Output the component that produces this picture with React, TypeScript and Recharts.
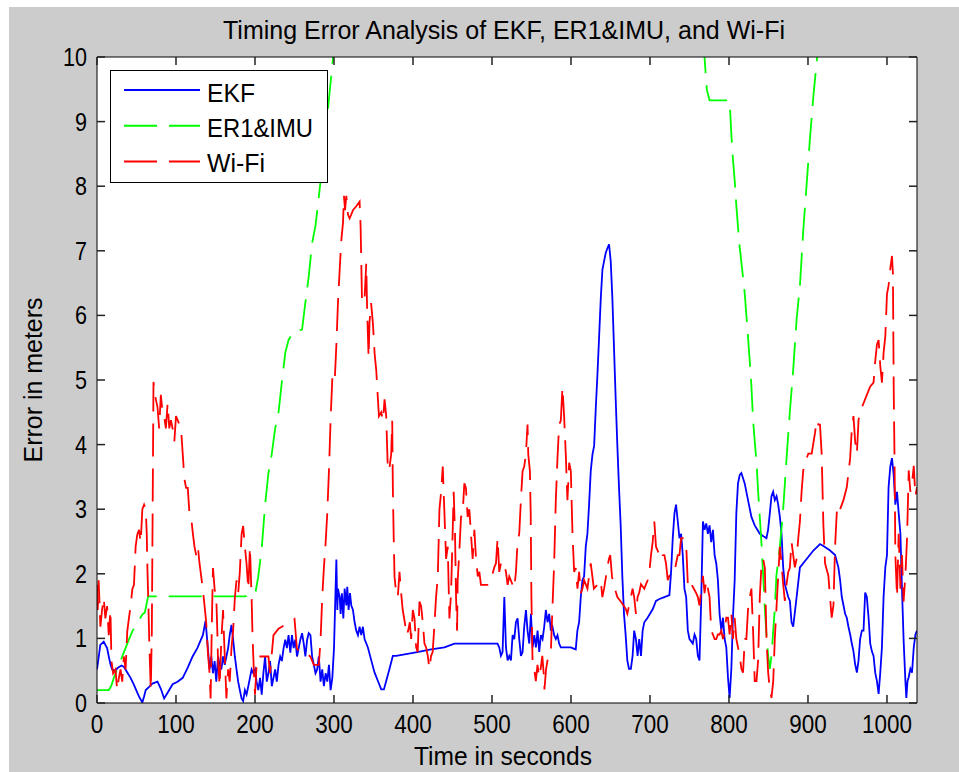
import { LineChart, Line, XAxis, YAxis, Legend } from 'recharts'

// time (s), error (m) pairs read off the plot
const ekfSeries: [number, number][] = [
  [0,0.52],[2,0.7],[4.2,0.9],[8.5,0.95],[10.6,0.9],[12.8,0.85],[14.9,0.72],[17,0.6],[19.1,0.52],[23,0.5],[27,0.55],[31,0.58],[34,0.56],[38,0.48],[42.5,0.39],[46.8,0.28],[51,0.16],[54,0.08],[57.4,0.01],[59.6,0.1],[61.7,0.2],[66,0.25],[70,0.3],[76.6,0.33],[80.8,0.22],[85,0.07],[89,0.15],[95.7,0.29],[102,0.33],[108.5,0.39],[115,0.55],[121,0.72],[127,0.85],[134,1.05],[137.4,1.27],[140,0.9],
  [142.5,0.52],[144.7,0.72],[146.8,0.46],[148.9,0.65],[151,0.33],[153.2,0.72],[155.3,0.59],[157.4,0.52],[159.6,0.72],[161.7,0.59],[163.8,0.72],[166,0.85],[168,1.05],[170.2,1.21],[172.3,0.98],[174.5,0.72],[176.6,0.52],[178.7,0.33],[180.8,0.2],[183,0.07],[185,0.03],[187.2,0.2],[189.3,0.13],[191.5,0.26],[193.6,0.39],[195.7,0.52],[197.9,0.46],[200,0.52],[202,0.33],[204.2,0.2],[206.4,0.39],[208.5,0.13],[210.6,0.46],[212.8,0.72],[214.9,0.33],[217,0.46],[219.1,0.65],[221.3,0.26],[223.4,0.39],[225.5,0.52],[227.6,0.33],[229.8,0.59],[231.9,0.72],[234,0.65],[236.2,0.85],[238.3,0.98],[240.4,0.85],[242.5,1.05],[244.7,0.78],[246.8,1.05],[248.9,0.85],[251,0.98],[253.2,0.72],[255.3,0.85],[257.4,0.98],[259.6,1.08],[261.7,0.92],[263.8,0.72],[266,0.98],[268,1.08],[270.2,1.05],[272.3,0.72],[274.5,0.59],[276.6,0.46],[278.7,0.52],[280.8,0.72],[283,0.33],[285.1,0.52],[287.2,0.26],[289.4,0.46],[291.5,0.33],[293.6,0.59],[295.7,0.2],[297.9,0.39],[300,0.85],
  [303,2.22],[304.2,1.44],[305,1.77],[307.2,1.64],[308.4,1.38],[310,1.7],[311.8,1.31],[313.5,1.77],[315.6,1.51],[316.8,1.8],[318.5,1.44],[320.2,1.7],[321.9,1.51],[324,1.44],[326.1,1.25],[328.2,1.12],[330.3,1.05],[332.4,1.18],[334.5,1.05],[336.6,1.18],[338.7,0.99],[342.9,0.86],[347.2,0.66],[351.4,0.47],[355.6,0.34],[359.8,0.21],[363.2,0.21],[366.1,0.34],[370.3,0.53],[374.5,0.73],[378.7,0.73],[401.9,0.78],[423,0.83],[439.8,0.86],[452.4,0.92],[507,0.92],
  [509.2,0.86],[511.3,0.73],[513.4,0.79],[515.6,1.64],[517.7,0.86],[519.8,0.66],[521.9,0.73],[524,0.66],[526.1,1.05],[528.2,0.99],[530.3,1.25],[532.4,1.31],[534.5,0.99],[536.6,0.73],[538.7,0.79],[540.8,1.18],[543,1.44],[545,1.12],[547.2,0.92],[549.3,1.38],[551.4,0.86],[553.5,1.05],[555.6,0.86],[557.7,1.12],[559.8,0.79],[561.9,1.05],[564,0.99],[566.1,1.18],[568.2,1.44],[570.3,1.25],[572.4,1.38],[574.5,1.12],[576.6,1.18],[578.7,1.05],[580.8,0.99],[582.9,1.05],[585,0.92],[587.1,0.86],[591.3,0.86],[599.7,0.86],[606,0.83],
  [608.1,1.12],[610.3,1.25],[612.4,1.64],[614.5,1.9],[616.6,1.96],[618.7,2.42],[620.8,2.62],[622.9,3.07],[625,3.59],[627.2,3.85],[629.3,3.98],[631.4,4.57],[633.5,5.09],[635.6,5.67],[637.7,6.26],[639.8,6.71],[641.9,6.84],[644,6.97],[646.1,7.04],[648.2,7.1],[650.3,6.84],[652.4,6.26],[654.5,5.48],[656.6,4.7],[658.7,3.98],[660.8,3.33],[662.9,2.75],[665,1.96],[667.1,1.38],[669.2,1.05],[671.3,0.66],[673.4,0.53],
  [675.8,0.53],[678,0.73],[680,1.12],[682.2,0.99],[684.3,0.73],[686.4,0.99],[688.6,0.73],[690.7,1.12],[692.8,1.25],[697,1.32],[703.4,1.45],[707.6,1.58],[711.9,1.61],[718.2,1.64],[724.6,1.67],[726.7,2.03],[728.8,2.55],[731,2.94],[733,3.07],[735.2,2.81],[737.3,2.55],[739.4,2.62],[741.5,2.29],[743.6,1.77],[745.8,1.64],[747.9,1.12],[750,0.99],[754.2,0.92],[756.4,1.06],[758.5,0.99],[760.6,0.73],[762.7,0.66],[764.8,1.58],[767,2.81],[769.1,2.68],[771.2,2.78],[773.3,2.62],[775.4,2.75],[777.5,2.49],[779.7,2.68],[781.8,2.29],[783.9,2.16],[786,1.9],[788.1,1.38],[790.3,1.12],[792.4,1.32],[794.5,0.99],[796.6,0.86],[798.7,0.4],[800.8,0.08],[803,0.53],[805,1.32],[807.2,1.9],[809.3,2.94],[811.4,3.4],[813.6,3.53],[815.7,3.56],[819.9,3.4],[824.1,3.14],[828.4,2.88],[832.6,2.75],[839,2.62],[847.4,2.55],[849.5,2.68],[851.7,2.94],[853.8,3.2],[855.9,3.27],[858,3.14],[860.2,3.2],[862.3,3.07],[864.4,2.88],[866.5,2.62],[868.6,2.1],[870.7,1.84],[875,1.64],[877.1,1.58],[879.2,1.25],[881.3,1.18],[885.6,1.64],[889.8,2.1],[898.3,2.23],[906.8,2.36],[915.2,2.46],[919.5,2.43],[928,2.36],[934.3,2.29],[938.5,2.1],[940.7,1.9],[942.8,1.64],[945,1.51],[947,1.38],[949.1,1.32],[951.2,1.18],[953.4,1.06],[955.5,0.92],[957.6,0.8],[959.7,0.6],[961.9,0.47],[964,0.66],[966,0.99],[968.2,1.12],[970.3,1.12],[972.4,1.71],[974.5,1.64],[976.7,1.32],[978.8,0.92],[980.9,0.8],[983,0.73],[985.1,0.47],[987.3,0.34],[989.4,0.14],[991.5,0.47],[993.6,0.86],[995.7,1.64],[997.9,2.1],[1000,2.29],[1002,3.34],[1004.2,3.66],[1006.3,3.79],[1008.5,3.53],[1010.6,3.07],[1012.7,3.27],[1014.8,2.94],[1017,2.62],[1019,1.77],[1021,0.99],[1023.3,0.34],[1024.5,0.08],[1026,0.34],[1027.5,0.4],[1029.6,0.53],[1031.7,0.47],[1033.9,0.86],[1036,1.06],[1038,1.12],
]

// goes above the axis limit between ~300 s and ~770 s (clipped, as in the original)
const er1ImuSeries: [number, number][] = [
  [0,0.2],[14.9,0.2],[17.9,0.26],[21.3,0.39],[25.5,0.52],[31.9,0.72],[38.3,0.92],[44.7,1.11],[51,1.24],[57.4,1.37],[60.5,1.4],[64.7,1.65],[187.2,1.65],[200,1.67],[204.2,1.96],[208.5,2.39],[212.8,3.07],[217,3.56],[221.3,3.86],[225.5,4.25],[229.8,4.5],[234,4.97],[238.3,5.42],[242.5,5.62],[249,5.75],[259.6,5.78],[263.8,6.2],[268,6.6],[272.3,7.12],[276.6,7.39],[280.8,7.84],[285,8.3],[289.4,8.8],[293.6,9.35],[297.9,9.87],[301,10.3],[310,11.5],
  [760,11.5],[769,10],[772,9.49],[775.4,9.33],[800.8,9.33],[803,8.8],[805,8.42],[807.2,8.09],[809.3,7.7],[811.4,7.37],[813.6,7.05],[817.8,6.59],[820,6.33],[824,5.68],[826.3,5.29],[828.4,4.9],[830.5,4.38],[832.6,4.05],[834.8,3.73],[836.9,3.27],[839,2.88],[841,2.49],[843.3,1.97],[845.4,1.45],[847.5,1.06],[849.6,0.73],[851.7,0.53],[853.8,0.73],[856,1.12],[858,1.45],[860,1.97],[864.4,2.42],[868.6,3.0],[872.9,3.79],[877,4.5],[881.3,5.16],[885.6,5.94],[889.8,6.46],[894,7.31],[898.3,8.03],[902.5,8.74],[906.8,9.39],[911,9.92],[914,10.3],[920,11],
]

const wifiSeries: [number, number][] = [
  [0,1.83],[0.9,1.44],[2.1,1.9],[4.3,1.18],[6.4,1.44],[8.5,1.63],[10.6,1.31],[12.8,1.5],[14.9,1.05],[17,1.44],[18.3,0.65],[20.4,0.46],[23.4,0.52],[25.5,0.2],[27.7,0.39],[29.8,0.52],[31.9,0.33],[34,0.72],[36.2,0.52],[38.3,1.11],[40.4,1.31],[42.5,1.5],[44.7,1.76],[46.8,1.83],[48.9,2.42],[51,2.61],[53.2,2.68],[55.3,2.48],[57.4,3.0],[59.6,3.07],[61.7,3.0],[63,2.61],[63.8,2.09],[65.1,1.5],[66.4,0.85],[68.1,0.2],[69.4,1.11],[70.6,3.27],[71.5,4.97],
  [74.5,4.7],[76.6,4.58],[78.7,4.25],[80.8,4.77],[83,4.5],[85,4.44],[87.2,4.25],[89.4,4.64],[91.5,4.25],[93.6,4.38],[95.7,4.25],[97.9,4.05],[100,4.44],[102.1,4.38],[104.3,4.31],[106.4,4.25],[108.5,3.86],[110.6,3.47],[112.8,3.33],[114.9,3.33],[117,2.94],[119.1,2.88],[121.3,2.63],[123.4,2.42],[125.5,2.29],[127.7,2.42],[129.8,2.16],[131.9,1.96],[134,1.76],[136.2,1.5],[138.3,1.24],[140.4,0.78],[142.5,0.46],[143.8,0.07],[145.5,1.31],[146.8,2.09],[148.9,1.76],[151,1.63],[152.3,1.11],[153.2,0.65],[155.3,0.26],[157.4,0.98],[159.6,1.44],[160.9,0.98],[162.6,0.46],[163.8,0.07],[166,0.52],[168,0.33],[170.2,0.85],[172.3,1.11],[174.5,1.63],[176.6,1.9],[178.7,1.7],[180.8,2.03],[183,2.61],[185,2.74],[187.2,2.42],[189.3,2.16],[191.5,1.76],[193.6,2.42],[195.7,1.63],[197,0.98],[198.7,0.46],[200,0.13],[202,0.59],[204.2,0.72],[217,0.72],[219,0.46],[223.4,1.05],[229.8,1.15],[234,1.18],[240,1.22],[246.8,1.27],[250,1.3],[253,0.85],[255.3,0.8],[264,0.78],[270,0.72],[274.5,0.59],[280.8,0.59],[283,0.98],[285.1,1.63],[287.2,2.09],[289.4,2.48],[291.5,2.94],[293.6,3.59],[295.7,4.38],[297.9,5.03],
  [300.8,4.96],[303,5.54],[305,6.19],[307.2,6.71],[309.3,7.17],[311.4,7.43],[312.6,7.85],[314,7.63],[315.6,7.85],[317.7,7.56],[319.8,7.5],[324,7.63],[328.2,7.69],[332.4,7.76],[333.7,7.37],[334.5,6.84],[335.4,6.26],[336.6,6.19],[338.7,6.26],[340.8,6.8],[342,6.06],[343.8,5.35],[345,5.9],[347,6.19],[349.3,5.87],[351.4,5.41],[353.5,5.15],[355.6,4.7],[356.9,4.44],[359.8,4.5],[362,4.37],[364,4.7],[366.1,4.44],[368.2,3.59],[370.3,3.65],[372.4,3.85],[373.7,4.37],[374.5,3.33],[375.3,2.75],[376.6,1.96],[378.7,1.7],[380.8,1.64],[382.9,2.03],[385,1.7],[387,1.44],[389.6,1.25],[391.8,1.05],[393.9,1.12],[396,1.25],[397.7,0.99],[399.8,1.44],[401.9,1.31],[404,0.86],[406,0.79],[408.2,1.57],[410.3,1.5],[412.4,1.25],[414.5,0.92],[416.6,0.86],[418.7,0.73],[420.8,0.53],[422.9,0.73],[424.9,0.79],[427,1.18],[429.2,1.64],[431.4,1.96],[433.5,3.0],[435.6,3.27],[437.7,3.66],[439,3.2],[439.8,2.94],[441.9,2.23],[444,2.42],[446.1,1.31],[448.2,1.7],[450.3,2.68],[451.5,3.27],[453.2,2.62],[454.5,1.64],[455.8,1.12],[456.6,1.9],[458.7,2.36],[460.8,2.88],[462.9,2.94],[465,3.4],[467,3.33],[469.2,2.88],[471.3,3.0],[473.4,2.62],[475.5,2.23],[477.7,2.68],[479.8,2.23],[482,1.96],[484,2.03],[486,1.83],[490.3,1.83],[494.5,1.83],[498.7,1.9],[502.9,2.1],[505,2.16],[507.1,2.55],[509.2,2.03],[511.3,2.16],[513.4,2.09],[515.6,2.13],[517.7,2.03],[519.8,1.83],[521.9,1.96],[526.1,1.83],[528.2,1.77],[530.3,2.03],[532.4,2.49],[534.5,2.62],[536.6,3.14],[538.7,3.59],[540.8,3.66],[542.9,3.85],[545,4.31],[545.9,3.85],[548,3.59],[549,2.94],[549.9,1.64],[551.3,0.66],[553.4,0.53],[555.5,0.34],[557.6,0.59],[559.7,0.4],[561.6,0.53],[563.7,0.73],[565.8,0.4],[566.4,0.21],[568.5,0.53],[570.3,0.66],[572.4,0.73],[574.5,0.79],[576.6,1.5],[578.7,2.16],[580.8,3.14],[582.9,3.79],[585,4.31],[587.1,4.37],[589.2,4.89],[591.3,4.44],[593.4,3.85],[595.5,3.14],[597.7,3.72],[599.8,3.59],[601.9,2.62],[604,2.03],[606,2.09],[608.2,1.77],[610.3,2.03],[612.4,1.7],[614.5,1.77],[616.6,1.9],[620.8,1.77],[625,2.16],[629,1.77],[633.4,1.83],[637.6,1.9],[639.7,1.64],[641.9,1.77],[646,2.09],[648,2.23],[649.7,2.29],[651.9,1.96],[654,1.83],[658.7,1.64],[663,1.57],[667,1.5],[669.5,1.45],[671.3,1.38],[673.6,1.51],[675.8,1.64],[678,1.77],[680,1.64],[682.2,1.38],[684.3,1.64],[686.4,1.71],[688.6,1.84],[692.8,1.77],[697,1.9],[699.2,2.03],[701.3,2.29],[703.4,2.49],[705.5,2.81],[707.6,2.42],[709.7,2.36],[711.9,2.29],[714,2.36],[716,2.29],[718.2,2.29],[720.3,2.16],[722.5,1.9],[724.6,1.97],[728.8,1.97],[731,2.03],[733,2.16],[735.2,2.29],[737.3,2.29],[739.4,2.55],[741.5,2.55],[743.6,2.5],[745.8,2.46],[747.9,1.84],[750,1.77],[752.1,1.84],[754.2,1.8],[758.5,1.7],[760.6,1.64],[762.7,1.51],[767,1.97],[769.1,1.7],[771.2,1.9],[773.3,1.77],[775.4,1.64],[777.5,1.12],[779.7,1.06],[781.8,0.99],[783.9,0.99],[786,1.06],[788.1,1.06],[790.3,1.12],[792.4,0.99],[794.5,1.12],[796.6,1.32],[798.7,1.32],[800.8,1.06],[803,1.38],[805,0.99],[807.2,1.32],[809.3,0.99],[811.4,0.86],[813.6,0.73],[815.7,0.53],[817.8,0.47],[820,0.99],[822,0.99],[824.1,1.45],[826.3,1.64],[828.4,1.77],[830.5,1.12],[832.6,0.34],[834.8,0.34],[836.9,0.66],[839,1.64],[841.2,2.16],[843.3,2.23],[845.4,2.09],[847.5,0.99],[849.6,0.47],[851.7,0.21],[853.8,0.08],[856,0.34],[858,0.99],[860,1.45],[862.3,1.97],[864.4,2.42],[866.5,2.16],[868.6,1.84],[870.7,1.58],[872.9,1.84],[875,2.03],[877,2.09],[879.2,2.49],[881.3,2.29],[883.4,2.1],[885.6,2.23],[887.7,2.55],[889.8,2.81],[891.9,3.27],[894,3.6],[896.2,3.73],[898.3,3.79],[900.4,3.86],[904.7,3.86],[908.9,4.18],[911,4.38],[913.1,4.31],[915.2,4.31],[917.3,3.86],[919.5,2.75],[921.6,2.16],[925.8,1.97],[927.9,1.64],[930,1.32],[932.2,1.51],[934.3,2.42],[936.4,2.94],[938.5,3.07],[940.7,3.0],[944.9,3.14],[949.1,3.34],[953.4,3.79],[955.5,4.25],[957.6,4.44],[959.7,4.05],[961.9,3.86],[964,4.38],[966,4.51],[970.3,4.64],[974.5,4.77],[978.8,4.9],[983,4.96],[985.1,5.29],[987.3,5.55],[989.4,5.62],[991.5,5.22],[993.6,4.96],[995.7,5.42],[997.9,5.68],[1000,6.33],[1002,6.46],[1004.2,6.72],[1006.3,6.92],[1007.5,6.66],[1008.5,4.9],[1009.7,3.6],[1010.6,2.29],[1012.7,1.64],[1014.8,2.62],[1017,1.77],[1019,2.29],[1021,1.57],[1023.3,1.97],[1025.4,2.55],[1027.5,3.6],[1029.6,3.27],[1031.7,3.4],[1033.9,3.67],[1036,3.2],[1038,3.34],
]

const xTicks = [0, 100, 200, 300, 400, 500, 600, 700, 800, 900, 1000]
const yTicks = [0, 1, 2, 3, 4, 5, 6, 7, 8, 9, 10]

const legendItems = [
  { name: 'EKF', color: '#0000ff', dash: undefined, w: 48 },
  { name: 'ER1&IMU', color: '#00ff00', dash: '33 12', w: 106 },
  { name: 'Wi-Fi', color: '#ff0000', dash: '33 12', w: 58 },
]

const FONT = '"Liberation Sans", Arial, sans-serif'
const PLOT = { left: 97, right: 917, top: 57, bottom: 703 }
const TICK_LEN = 8
const TICK_STYLE = { stroke: '#222', strokeWidth: 1.5 }
const toRows = (s: [number, number][]) => s.map(([t, v]) => ({ t, v }))

// ticks point inward, like a MATLAB box
const BottomTick = (props: any) => {
  const s = String(props.payload.value)
  return (
    <g>
      <text x={props.x} y={733} textAnchor="middle" fontSize={26} fontFamily={FONT} fill="#000"
        textLength={s.length * 12.5} lengthAdjust="spacingAndGlyphs">{s}</text>
      <path d={`M${props.x},${PLOT.bottom}V${PLOT.bottom - TICK_LEN}`} {...TICK_STYLE} />
    </g>
  )
}

const TopTick = (props: any) => (
  <path d={`M${props.x},${PLOT.top}V${PLOT.top + TICK_LEN}`} {...TICK_STYLE} />
)

const LeftTick = (props: any) => {
  const s = String(props.payload.value)
  return (
    <g>
      <text x={87} y={props.y + 9} textAnchor="end" fontSize={26} fontFamily={FONT} fill="#000"
        textLength={s.length * 12} lengthAdjust="spacingAndGlyphs">{s}</text>
      <path d={`M${PLOT.left},${props.y}H${PLOT.left + TICK_LEN}`} {...TICK_STYLE} />
    </g>
  )
}

const RightTick = (props: any) => (
  <path d={`M${PLOT.right},${props.y}H${PLOT.right - TICK_LEN}`} {...TICK_STYLE} />
)

const renderLegend = () => (
  <svg width={218} height={113} style={{ display: 'block' }}>
    <rect x={0.5} y={0.5} width={217} height={112} fill="#fff" stroke="#000" />
    {legendItems.map((it, i) => (
      <g key={it.name}>
        <line x1={14} x2={90} y1={20 + i * 35.8} y2={20 + i * 35.8} stroke={it.color} strokeWidth={2} strokeDasharray={it.dash} />
        <text x={97} y={31.7 + i * 35} fontSize={26} fontFamily={FONT} fill="#000"
          textLength={it.w} lengthAdjust="spacingAndGlyphs">{it.name}</text>
      </g>
    ))}
  </svg>
)

export default function App() {
  return (
    <div style={{ position: 'absolute', left: 0, top: 0, width: 959, height: 772, background: '#fff', overflow: 'hidden' }}>
      <div style={{ position: 'absolute', left: 9, top: 7, width: 950, height: 765, background: '#cccccc' }} />
      {/* white axes background, behind the transparent svg */}
      <div style={{ position: 'absolute', left: PLOT.left, top: PLOT.top, width: PLOT.right - PLOT.left, height: PLOT.bottom - PLOT.top, background: '#fff' }} />
      <div style={{ position: 'absolute', left: 0, top: 0 }}>
        {/* top/right axes take 1px each, so margins are 1px smaller */}
        <LineChart width={959} height={772} margin={{ top: 56, right: 41, bottom: 29, left: 37 }}>
          <XAxis xAxisId="b" type="number" dataKey="t" domain={[0, 1038]} ticks={xTicks} interval={0}
            allowDataOverflow height={40} tickLine={false}
            axisLine={{ stroke: '#000' }} tick={BottomTick}
            label={{ content: () => (
              <text x={503} y={765} textAnchor="middle" fontSize={26} fontFamily={FONT} fill="#000"
                textLength={178} lengthAdjust="spacingAndGlyphs">Time in seconds</text>
            ) }} />
          <XAxis xAxisId="t" orientation="top" type="number" dataKey="t" domain={[0, 1038]} ticks={xTicks} interval={0}
            allowDataOverflow height={1} tickLine={false}
            axisLine={{ stroke: '#000' }} tick={TopTick}
            label={{ content: () => (
              <text x={504} y={39} textAnchor="middle" fontSize={26} fontFamily={FONT} fill="#000"
                textLength={562} lengthAdjust="spacingAndGlyphs">Timing Error Analysis of EKF, ER1&amp;IMU, and Wi-Fi</text>
            ) }} />
          <YAxis yAxisId="l" type="number" domain={[0, 10]} ticks={yTicks} interval={0} allowDataOverflow
            width={60} tickLine={false} axisLine={{ stroke: '#000' }} tick={LeftTick}
            label={{ content: () => (
              <text transform="translate(42,380) rotate(-90)" textAnchor="middle" fontSize={26} fontFamily={FONT} fill="#000"
                textLength={165} lengthAdjust="spacingAndGlyphs">Error in meters</text>
            ) }} />
          <YAxis yAxisId="r" orientation="right" type="number" domain={[0, 10]} ticks={yTicks} interval={0} allowDataOverflow
            width={1} tickLine={false} axisLine={{ stroke: '#000' }} tick={RightTick} />
          <Line xAxisId="b" yAxisId="l" data={toRows(ekfSeries)} dataKey="v" name="EKF" type="linear"
            stroke="#0000ff" strokeWidth={1.8} dot={false} isAnimationActive={false} />
          <Line xAxisId="b" yAxisId="l" data={toRows(er1ImuSeries)} dataKey="v" name="ER1&IMU" type="linear"
            stroke="#00ff00" strokeWidth={1.8} strokeDasharray="33 12" dot={false} isAnimationActive={false} />
          <Line xAxisId="b" yAxisId="l" data={toRows(wifiSeries)} dataKey="v" name="Wi-Fi" type="linear"
            stroke="#ff0000" strokeWidth={1.8} strokeDasharray="33 12" dot={false} isAnimationActive={false} />
          <Legend layout="vertical" align="center" verticalAlign="middle" content={renderLegend}
            wrapperStyle={{ left: 110, top: 70, width: 218, height: 113 }} />
        </LineChart>
      </div>
    </div>
  )
}
